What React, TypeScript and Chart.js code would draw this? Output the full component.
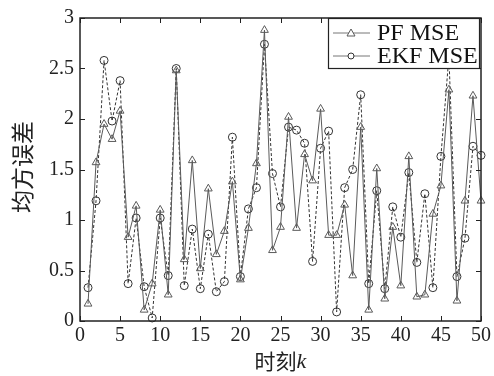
import React, { useEffect, useRef } from "react";
import { Chart, registerables } from "chart.js";

Chart.register(...registerables);

const steps: number[] = [1,2,3,4,5,6,7,8,9,10,11,12,13,14,15,16,17,18,19,20,21,22,23,24,25,26,27,28,29,30,31,32,33,34,35,36,37,38,39,40,41,42,43,44,45,46,47,48,49,50];

const pfMse: number[] = [0.17,1.57,1.95,1.80,2.08,0.83,1.14,0.11,0.37,1.10,0.26,2.48,0.61,1.59,0.52,1.31,0.66,0.89,1.38,0.41,0.92,1.56,2.88,0.70,0.93,2.02,0.92,1.65,1.39,2.10,0.85,0.85,1.15,0.45,1.92,0.11,1.51,0.22,0.93,0.35,1.63,0.24,0.26,1.06,1.34,2.29,0.20,1.19,2.23,1.19];

const ekfMse: number[] = [0.33,1.19,2.58,1.98,2.38,0.37,1.02,0.34,0.03,1.02,0.45,2.50,0.35,0.91,0.32,0.86,0.29,0.39,1.82,0.44,1.11,1.32,2.74,1.46,1.13,1.92,1.89,1.76,0.59,1.71,1.88,0.09,1.32,1.50,2.24,0.37,1.29,0.32,1.13,0.83,1.47,0.58,1.26,0.33,1.63,2.62,0.44,0.82,1.73,1.64];

const xTicks: number[] = [0,5,10,15,20,25,30,35,40,45,50];
const yTicks: number[] = [0,0.5,1,1.5,2,2.5,3];
const seriesNames: string[] = ["PF MSE", "EKF MSE"];
const yTitle = "均方误差";
const xTitleMain = "时刻";
const xTitleVar = "k";

const SERIF = "'Liberation Serif', 'Times New Roman', serif";
const CJK = "'Noto Sans CJK SC', sans-serif";
const PF_COLOR = "#5a5a5a";
const EKF_COLOR = "#333333";

const decorPlugin = {
  id: "decor",
  afterDatasetsDraw(chart: any) {
    const ctx = chart.ctx;
    const { left, right, top, bottom } = chart.chartArea;
    ctx.save();
    ctx.strokeStyle = "#222";
    ctx.lineWidth = 1;
    const xs = chart.scales.x;
    const ys = chart.scales.y;
    ctx.beginPath();
    xTicks.forEach((v) => {
      const p = Math.round(xs.getPixelForValue(v)) + 0.5;
      ctx.moveTo(p, bottom);
      ctx.lineTo(p, bottom - 5);
      ctx.moveTo(p, top);
      ctx.lineTo(p, top + 5);
    });
    yTicks.forEach((v) => {
      const p = Math.round(ys.getPixelForValue(v)) + 0.5;
      ctx.moveTo(left, p);
      ctx.lineTo(left + 5, p);
      ctx.moveTo(right, p);
      ctx.lineTo(right - 5, p);
    });
    ctx.stroke();
    ctx.lineWidth = 1.5;
    ctx.strokeRect(left, top, right - left, bottom - top);

    // legend
    const bx = 328, by = 18, bw = 151, bh = 50;
    ctx.fillStyle = "#fff";
    ctx.fillRect(bx, by, bw, bh);
    ctx.lineWidth = 1.2;
    ctx.strokeStyle = "#222";
    ctx.strokeRect(bx + 0.5, by + 0.5, bw, bh);
    const rows = [
      { name: seriesNames[0], y: by + 15, color: PF_COLOR, shape: "tri" },
      { name: seriesNames[1], y: by + 38, color: EKF_COLOR, shape: "circ" },
    ];
    rows.forEach((r) => {
      ctx.strokeStyle = "#777";
      ctx.lineWidth = 1;
      ctx.beginPath();
      ctx.moveTo(bx + 5, r.y);
      ctx.lineTo(bx + 42, r.y);
      ctx.stroke();
      ctx.strokeStyle = r.color;
      ctx.beginPath();
      const cx = bx + 23;
      if (r.shape === "tri") {
        ctx.moveTo(cx, r.y - 4);
        ctx.lineTo(cx + 4, r.y + 3);
        ctx.lineTo(cx - 4, r.y + 3);
        ctx.closePath();
      } else {
        ctx.arc(cx, r.y, 3, 0, Math.PI * 2);
      }
      ctx.fillStyle = "#fff";
      ctx.fill();
      ctx.stroke();
      ctx.fillStyle = "#111";
      ctx.font = `24px ${SERIF}`;
      ctx.textAlign = "left";
      ctx.textBaseline = "middle";
      ctx.fillText(r.name, bx + 49, r.y + 1);
    });

    // axis titles
    ctx.fillStyle = "#222";
    ctx.font = `23px ${CJK}`;
    ctx.textBaseline = "middle";
    ctx.textAlign = "center";
    ctx.save();
    ctx.translate(22, 167);
    ctx.rotate(-Math.PI / 2);
    ctx.fillText(yTitle, 0, 0);
    ctx.restore();

    ctx.font = `21px ${CJK}`;
    const w1 = ctx.measureText(xTitleMain).width;
    ctx.font = `italic 22px ${SERIF}`;
    const w2 = ctx.measureText(xTitleVar).width;
    const cx = (left + right) / 2;
    const startX = cx - (w1 + w2) / 2;
    ctx.textAlign = "left";
    ctx.font = `21px ${CJK}`;
    ctx.fillText(xTitleMain, startX, 361);
    ctx.font = `italic 22px ${SERIF}`;
    ctx.fillText(xTitleVar, startX + w1, 362);
    ctx.restore();
  },
};

export default function App() {
  const ref = useRef<HTMLCanvasElement | null>(null);
  useEffect(() => {
    document.body.style.margin = "0";
    const canvas = ref.current!;
    const chart = new Chart(canvas, {
      type: "line",
      data: {
        datasets: [
          {
            label: seriesNames[0],
            data: steps.map((k, i) => ({ x: k, y: pfMse[i] })),
            borderColor: PF_COLOR,
            borderWidth: 1,
            pointStyle: "triangle",
            pointRadius: 4.5,
            pointBorderColor: PF_COLOR,
            pointBackgroundColor: "rgba(0,0,0,0)",
            pointBorderWidth: 1,
            tension: 0,
            clip: false as any,
          },
          {
            label: seriesNames[1],
            data: steps.map((k, i) => ({ x: k, y: ekfMse[i] })),
            borderColor: EKF_COLOR,
            borderWidth: 1,
            borderDash: [3, 2],
            pointStyle: "circle",
            pointRadius: 4,
            pointBorderColor: EKF_COLOR,
            pointBackgroundColor: "rgba(0,0,0,0)",
            pointBorderWidth: 1,
            tension: 0,
            clip: false as any,
          },
        ],
      },
      options: {
        animation: false,
        responsive: false,
        maintainAspectRatio: false,
        layout: { padding: { top: 15, right: 11, left: 0, bottom: 0 } },
        plugins: { legend: { display: false }, tooltip: { enabled: false } },
        scales: {
          x: {
            type: "linear",
            min: 0,
            max: 50,
            afterBuildTicks: (s: any) => {
              s.ticks = xTicks.map((v) => ({ value: v }));
            },
            afterFit: (s: any) => {
              s.height = 55;
            },
            grid: { display: false, drawTicks: false },
            border: { display: false },
            ticks: {
              padding: 3,
              color: "#222",
              font: { family: SERIF, size: 20 },
              maxRotation: 0,
              autoSkip: false,
              callback: (v: any) => String(v),
            },
          },
          y: {
            type: "linear",
            min: 0,
            max: 3,
            afterBuildTicks: (s: any) => {
              s.ticks = yTicks.map((v) => ({ value: v }));
            },
            afterFit: (s: any) => {
              s.width = 80;
            },
            grid: { display: false, drawTicks: false },
            border: { display: false },
            ticks: {
              padding: 6,
              color: "#222",
              font: { family: SERIF, size: 20 },
              autoSkip: false,
              callback: (v: any) => String(v),
            },
          },
        },
      },
      plugins: [decorPlugin],
    });
    return () => chart.destroy();
  }, []);
  return <canvas ref={ref} width={494} height={376} style={{ display: "block" }} />;
}
